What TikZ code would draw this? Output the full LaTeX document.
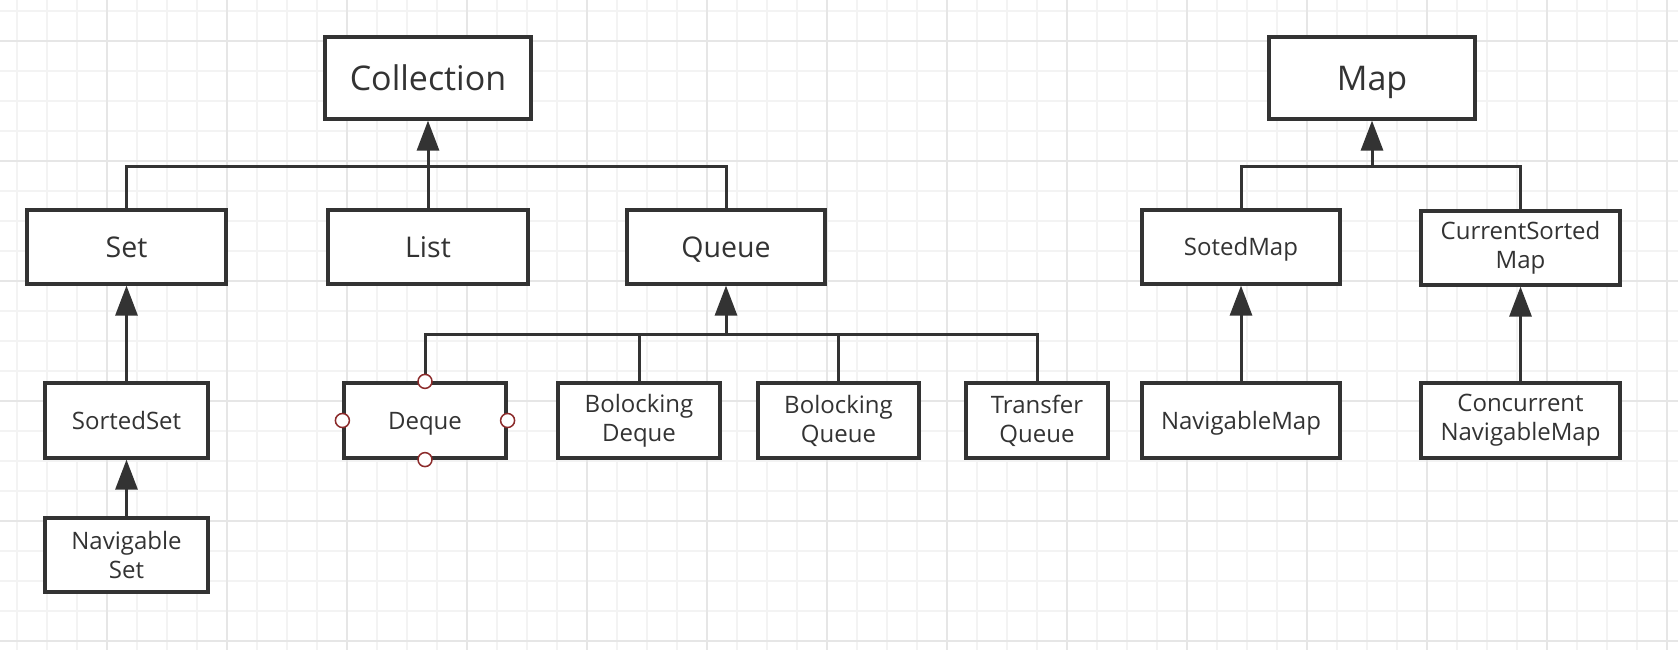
\documentclass[tikz,border=0pt]{standalone}
\usepackage{fontspec}
\setmainfont{Open Sans}
\usetikzlibrary{arrows.meta}
\definecolor{linec}{HTML}{333333}
\definecolor{textc}{HTML}{333333}
\definecolor{gridminor}{HTML}{F3F3F3}
\definecolor{gridmajor}{HTML}{E6E6E6}
\definecolor{portc}{HTML}{8B2A2A}
\tikzset{
  box/.style={draw=linec, line width=3.2pt, fill=white, inner sep=0pt, align=center, text=textc},
  bigbox/.style={box, minimum width=206pt, minimum height=82pt, font=\fontsize{34}{40}\selectfont, text height=24.3pt, text depth=0pt},
  midbox/.style={box, minimum width=199pt, minimum height=74pt, font=\fontsize{28.5}{34}\selectfont},
  midone/.style={text height=20.3pt, text depth=0pt},
  smallbox/.style={box, minimum height=75pt, font=\fontsize{24}{29}\selectfont},
  smallone/.style={text height=17.1pt, text depth=0pt},
  conn/.style={draw=linec, line width=3pt},
  inh/.style={conn, -{Triangle[length=30pt,width=22pt]}},
  port/.style={circle, draw=portc, fill=white, line width=1.5pt, minimum size=14pt, inner sep=0pt},
}
\begin{document}
\begin{tikzpicture}[x=1pt,y=-1pt]
\useasboundingbox (0,0) rectangle (1678,650);
\fill[white] (0,0) rectangle (1678,650);
% grid
\foreach \x in {17,47,...,1677} \draw[gridminor, line width=1.5pt] (\x,0) -- (\x,650);
\foreach \y in {11,41,...,641} \draw[gridminor, line width=1.5pt] (0,\y) -- (1678,\y);
\foreach \x in {107,227,...,1667} \draw[gridmajor, line width=1.5pt] (\x,0) -- (\x,650);
\foreach \y in {41,161,...,641} \draw[gridmajor, line width=1.5pt] (0,\y) -- (1678,\y);

% top
\node[bigbox] (coll) at (428,78) {Collection};
\node[bigbox] (map) at (1372,78) {Map};

% row 2
\node[midbox, midone] (set) at (126.5,247) {Set};
\node[midbox, midone, minimum width=200pt] (list) at (428,247) {List};
\node[midbox, midone, minimum width=198pt] (queue) at (726,247) {Queue};
\node[midbox, minimum width=198pt, font=\fontsize{24}{29}\selectfont, smallone] (sotedmap) at (1241,247) {SotedMap};
\node[midbox, font=\fontsize{24}{29}\selectfont] (csmap) at (1520.5,248) {CurrentSorted\\Map};

% row 3
\node[smallbox, smallone, minimum width=163pt] (sortedset) at (126.5,420.5) {SortedSet};
\node[smallbox, smallone, minimum width=162pt] (deque) at (425,420.5) {Deque};
\node[smallbox, minimum width=162pt] (bdeque) at (639,420.5) {Bolocking\\Deque};
\node[smallbox, minimum width=161pt] (bqueue) at (838.5,420.5) {Bolocking\\Queue};
\node[smallbox, minimum width=142pt] (tqueue) at (1037,420.5) {Transfer\\Queue};
\node[smallbox, smallone, minimum width=198pt] (navmap) at (1241,420.5) {NavigableMap};
\node[smallbox, minimum width=199pt] (cnavmap) at (1520.5,420.5) {Concurrent\\NavigableMap};

% row 4
\node[smallbox, minimum width=163pt, minimum height=74pt] (navset) at (126.5,555) {Navigable\\Set};

% Collection tree
\coordinate (cj) at (428,166);
\draw[conn] (set.north) |- (cj) -| (queue.north);
\draw[conn] (list.north) -- (cj);
\draw[inh] (cj) -- (coll.south);

% Map tree
\coordinate (mj) at (1372,166);
\draw[conn] (sotedmap.north) |- (mj) -| (csmap.north);
\draw[inh] (mj) -- (map.south);

% Queue tree
\coordinate (qj) at (726,334);
\draw[conn] (deque.north) |- (qj) -| (tqueue.north);
\draw[conn] (bdeque.north) -- (bdeque.north |- qj);
\draw[conn] (bqueue.north) -- (bqueue.north |- qj);
\draw[inh] (qj) -- (queue.south);

% direct
\draw[inh] (sortedset.north) -- (set.south);
\draw[inh] (navset.north) -- (sortedset.south);
\draw[inh] (navmap.north) -- (sotedmap.south);
\draw[inh] (cnavmap.north) -- (csmap.south);

% Deque ports
\node[port] (p1) at (deque.north) {};
\node[port] (p2) at (deque.south) {};
\node[port] (p3) at (deque.west) {};
\node[port] (p4) at (deque.east) {};
\end{tikzpicture}
\end{document}
